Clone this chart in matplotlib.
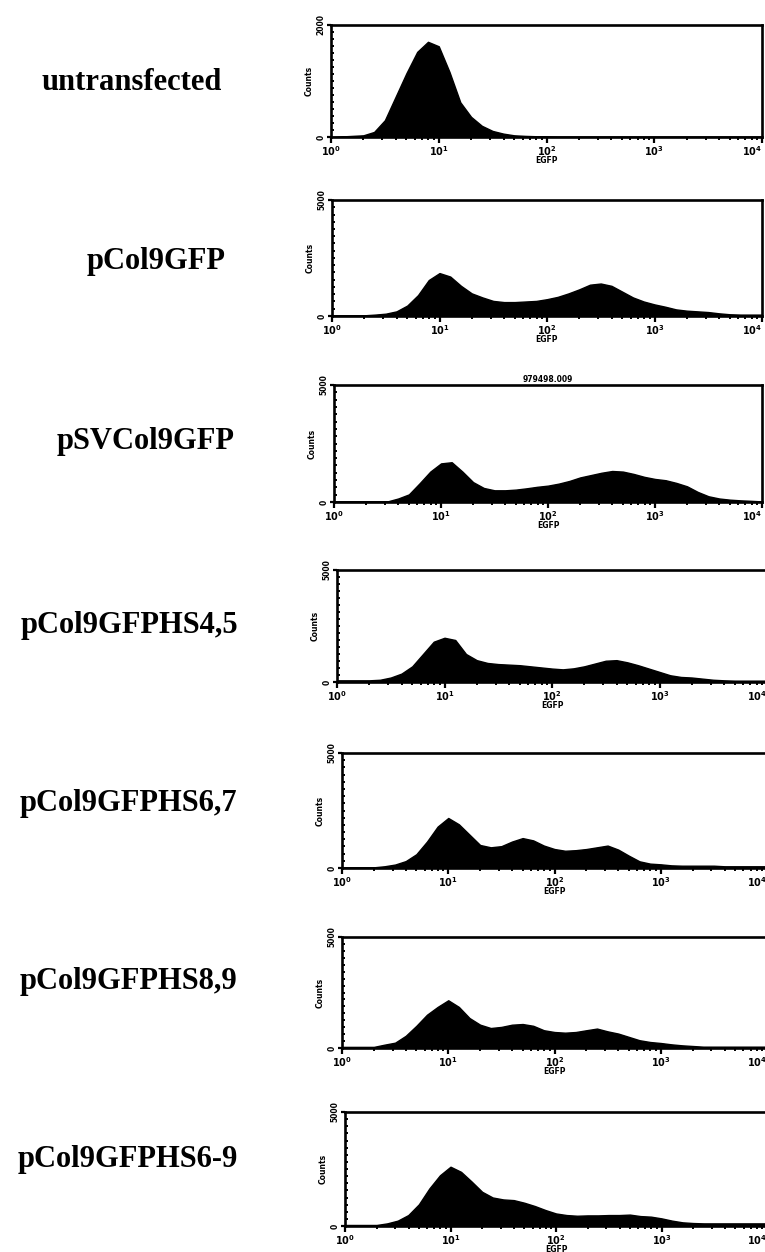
import numpy as np
import matplotlib
matplotlib.use('Agg')
import matplotlib.pyplot as plt
from matplotlib.ticker import FixedLocator, MultipleLocator, LogLocator, NullFormatter

# sample names, left column
names = ['untransfected', 'pCol9GFP', 'pSVCol9GFP', 'pCol9GFPHS4,5',
         'pCol9GFPHS6,7', 'pCol9GFPHS8,9', 'pCol9GFPHS6-9']
ymax_list = [2000, 5000, 5000, 5000, 5000, 5000, 5000]

# EGFP channel, log10 positions 0.0 .. 4.0 in 0.1 steps
log_egfp = np.round(np.arange(0, 4.01, 0.1), 1)

# counts (41 values each)
counts_untransfected = [0, 10, 20, 30, 90, 300, 720, 1140, 1520, 1700, 1620, 1160, 620, 360, 200,
                        108, 60, 30, 20, 14, 10, 6, 6, 6, 6, 6, 6, 6, 6, 6, 6, 6, 6, 6, 6, 6, 6,
                        6, 6, 6, 6]
counts_pcol9 = [25, 25, 25, 30, 60, 100, 200, 450, 900, 1550, 1850, 1700, 1300, 975, 800, 650,
                600, 600, 625, 650, 725, 825, 975, 1150, 1350, 1400, 1300, 1050, 800, 625, 500,
                400, 285, 230, 200, 170, 115, 75, 60, 60, 60]
counts_psv = [25, 25, 25, 25, 25, 25, 150, 325, 800, 1300, 1650, 1700, 1300, 850, 600, 500, 500,
              530, 585, 650, 700, 785, 900, 1050, 1150, 1250, 1325, 1300, 1200, 1075, 985, 930,
              815, 670, 430, 245, 150, 100, 70, 50, 25]
counts_hs45 = [75, 75, 75, 75, 100, 200, 375, 700, 1250, 1800, 1975, 1875, 1250, 975, 850, 800,
               775, 750, 700, 650, 600, 565, 610, 700, 825, 950, 975, 880, 750, 600, 450, 300,
               225, 200, 150, 100, 75, 60, 60, 60, 60]
counts_hs67 = [30, 30, 30, 30, 75, 150, 300, 600, 1150, 1800, 2175, 1900, 1450, 1000, 900, 950,
               1150, 1300, 1200, 975, 825, 750, 775, 825, 900, 975, 800, 535, 290, 190, 160, 115,
               100, 100, 100, 100, 75, 75, 75, 75, 75]
counts_hs89 = [50, 50, 50, 50, 150, 240, 550, 1000, 1500, 1850, 2150, 1850, 1350, 1050, 900, 950,
               1050, 1080, 1000, 800, 720, 690, 720, 800, 875, 750, 650, 500, 350, 270, 225, 165,
               120, 90, 60, 60, 60, 60, 60, 60, 60]
counts_hs69 = [45, 45, 45, 45, 115, 235, 480, 950, 1650, 2225, 2600, 2375, 1950, 1500, 1250, 1165,
               1135, 1020, 875, 700, 550, 480, 450, 465, 465, 480, 480, 500, 435, 410, 335, 235,
               160, 130, 115, 115, 115, 115, 115, 115, 115]
all_counts = [counts_untransfected, counts_pcol9, counts_psv, counts_hs45,
              counts_hs67, counts_hs89, counts_hs69]

#%% layout in pixels (left, right, top, bottom) and label spots
W, H = 765, 1252
boxes = [(331, 762, 25, 137), (332, 762, 200, 316), (334, 762, 385, 502),
         (337, 767, 570, 682), (342, 767, 753, 868), (342, 767, 937, 1048),
         (345, 767, 1112, 1226)]
label_y = [82, 262, 442, 625, 803, 982, 1160]
label_right = [222, 226, 235, 238, 237, 237, 238]

fig = plt.figure(figsize=(W / 100, H / 100), dpi=100)

for i in range(7):
    l, r, t, b = boxes[i]
    ax = fig.add_axes([l / W, (H - b) / H, (r - l) / W, (b - t) / H])
    x = 10 ** log_egfp
    ax.fill_between(x, all_counts[i], 0, color='black', linewidth=1.0, edgecolor='black')
    ax.set_xscale('log')
    ax.set_xlim(1, 1e4)
    ax.set_ylim(0, ymax_list[i])

    for s in ax.spines.values():
        s.set_linewidth(1.9)
    if i >= 3:
        ax.spines['right'].set_visible(False)

    ax.xaxis.set_major_locator(FixedLocator([1, 10, 100, 1000, 10000]))
    ax.set_xticklabels([r'$\mathbf{10^0}$', r'$\mathbf{10^1}$', r'$\mathbf{10^2}$',
                        r'$\mathbf{10^3}$', r'$\mathbf{10^4}$'])
    # keep the last decade label inside the picture
    ax.get_xticklabels()[-1].set_horizontalalignment('right')
    ax.xaxis.set_minor_locator(LogLocator(base=10, subs=np.arange(2, 10)))
    ax.xaxis.set_minor_formatter(NullFormatter())
    ax.yaxis.set_major_locator(FixedLocator([0, ymax_list[i]]))
    ax.set_yticklabels(['0', str(ymax_list[i])], rotation=90, va='center',
                       fontsize=5.5, fontweight='bold')
    ax.yaxis.set_minor_locator(MultipleLocator(ymax_list[i] / 16))
    ax.tick_params(axis='x', which='major', length=4, width=1.6, labelsize=7, pad=1)
    ax.tick_params(axis='x', which='minor', length=2.5, width=1.4)
    ax.tick_params(axis='y', which='major', length=3, width=1.6, pad=1)
    ax.tick_params(axis='y', which='minor', length=2, width=1.4, direction='in')

    ax.set_ylabel('Counts', fontsize=5.5, fontweight='bold', labelpad=2)
    ax.set_xlabel('EGFP', fontsize=5.5, fontweight='bold', labelpad=-1)

    if i == 2:
        ax.set_title('979498.009', fontsize=5.5, fontweight='bold', pad=2)

    fig.text(label_right[i] / W, (H - label_y[i]) / H, names[i], ha='right', va='center',
             fontsize=22, fontweight='bold', family='Liberation Serif')

fig.savefig('out.png', dpi=100)
